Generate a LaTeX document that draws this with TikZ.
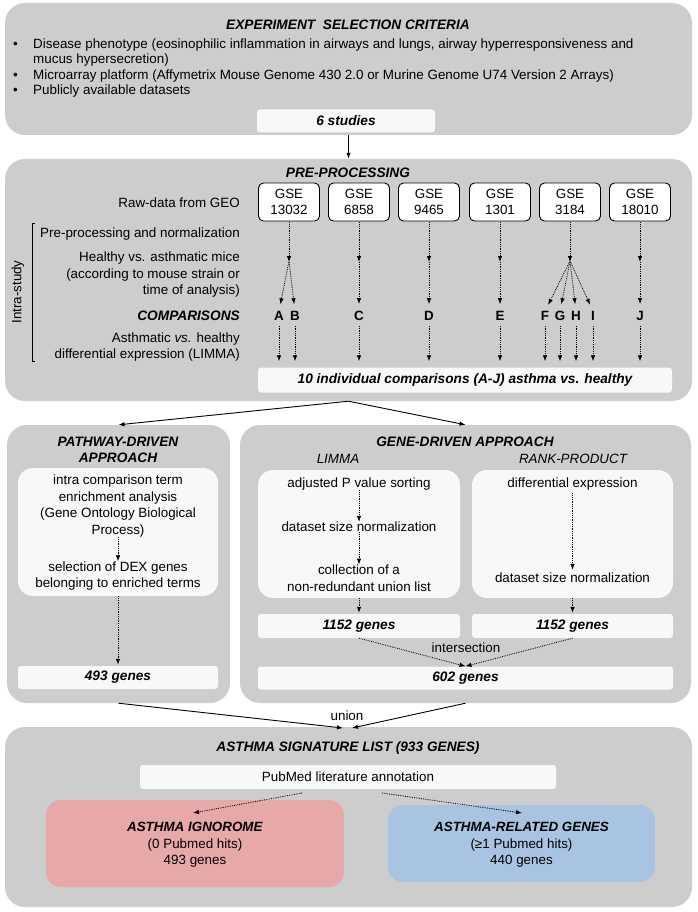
\documentclass[tikz,border=0pt]{standalone}
\usepackage{fontspec}
\setmainfont{Liberation Sans}
\usetikzlibrary{arrows.meta}
\definecolor{boxgray}{RGB}{205,205,205}
\definecolor{boxwhite}{RGB}{248,248,248}
\definecolor{ignopink}{RGB}{230,168,168}
\definecolor{relblue}{RGB}{169,196,226}
\newcommand{\txtsize}{\fontsize{13.4}{16.5}\selectfont}
\newcommand{\ttlsize}{\fontsize{13.7}{16}\selectfont}
\tikzset{
  bigbox/.style={fill=boxgray, rounded corners=20pt},
  innerbox/.style={fill=boxwhite, rounded corners=15pt},
  genebox/.style={fill=boxwhite, rounded corners=3pt, font=\ttlsize\bfseries\itshape},
  gsebox/.style={draw, line width=0.9pt, fill=white, rounded corners=5pt, minimum width=61, minimum height=38, align=center},
  ttl/.style={font=\ttlsize\bfseries\itshape, align=center},
  cmp/.style={font=\txtsize\bfseries},
  bul/.style={anchor=base west},
  dotarrow/.style={densely dotted, line width=0.8pt, -{Latex[length=6pt,width=4.5pt]}},
  solidarrow/.style={line width=0.9pt, -{Latex[length=6pt,width=4.5pt]}}
}
\begin{document}
\begin{tikzpicture}[x=1pt,y=-1pt, every node/.append style={font=\txtsize, inner sep=0pt}]
  \useasboundingbox (0,0) rectangle (697,912);

  %experiment selection criteria
  \node[bigbox, minimum width=687, minimum height=132] (crit) at (348.5,69) {};
  \node[ttl] (critttl) at (348,25) {EXPERIMENT\ \ SELECTION CRITERIA};
  \node[bul] (bul1) at (13,49) {•};
  \node[bul] (crit1) at (33,49) {Disease phenotype (eosinophilic inflammation in airways and lungs, airway hyperresponsiveness and};
  \node[bul] (crit1b) at (33,64) {mucus hypersecretion)};
  \node[bul] (bul2) at (13,79.5) {•};
  \node[bul] (crit2) at (33,79.5) {Microarray platform (Affymetrix Mouse Genome 430 2.0 or Murine Genome U74 Version 2 Arrays)};
  \node[bul] (bul3) at (13,95) {•};
  \node[bul] (crit3) at (33,95) {Publicly available datasets};
  \node[genebox, minimum width=178, minimum height=23] (studies) at (346,121) {6 studies};

  %pre-processing
  \node[bigbox, minimum width=687, minimum height=242] (pre) at (348.5,280) {};
  \draw[solidarrow] (crit.south) -- (pre.north);
  \node[ttl] (prettl) at (348,173) {PRE-PROCESSING};
  \node[anchor=east] (raw) at (240,203) {Raw-data from GEO};
  \node[anchor=east] (norm) at (240,234) {Pre-processing and normalization};
  \node[anchor=east, align=right] (mice) at (240,275) {Healthy vs. asthmatic mice\\(according to mouse strain or\\time of analysis)};
  \node[anchor=east, font=\ttlsize\bfseries\itshape] (cmps) at (240,316) {COMPARISONS};
  \node[anchor=east, align=right] (dex) at (240,347) {Asthmatic \textit{vs.} healthy\\differential expression (LIMMA)};
  \draw[line width=0.8pt] (35,223) -- (32,223) -- (32,361) -- (35,361);
  \node[rotate=90] (intra) at (18,292) {Intra-study};

  \node[gsebox] (gse1) at (289,202) {GSE\\13032};
  \node[gsebox] (gse2) at (359,202) {GSE\\6858};
  \node[gsebox] (gse3) at (429,202) {GSE\\9465};
  \node[gsebox] (gse4) at (500,202) {GSE\\1301};
  \node[gsebox] (gse5) at (570,202) {GSE\\3184};
  \node[gsebox] (gse6) at (640,202) {GSE\\18010};

  \coordinate (m1) at (289,261);
  \coordinate (m2) at (359,261);
  \coordinate (m3) at (429,261);
  \coordinate (m4) at (500,261);
  \coordinate (m5) at (570,261);
  \coordinate (m6) at (640,261);

  \node[cmp] (A) at (279,316) {A};
  \node[cmp] (B) at (295,316) {B};
  \node[cmp] (C) at (359,316) {C};
  \node[cmp] (D) at (429,316) {D};
  \node[cmp] (E) at (500,316) {E};
  \node[cmp] (F) at (545,316) {F};
  \node[cmp] (G) at (560,316) {G};
  \node[cmp] (H) at (576,316) {H};
  \node[cmp] (I) at (593,316) {I};
  \node[cmp] (J) at (640,316) {J};

  \node[genebox, minimum width=414, minimum height=25] (indiv) at (465,380) {10 individual comparisons (A-J) asthma vs. healthy};

  \foreach \g/\m in {gse1/m1,gse2/m2,gse3/m3,gse4/m4,gse5/m5,gse6/m6}
    \draw[dotarrow, shorten <=1pt, shorten >=-1pt] (\g.south) -- (\m);
  \foreach \m/\c in {m1/A,m1/B,m2/C,m3/D,m4/E,m5/F,m5/G,m5/H,m5/I,m6/J}
    \draw[dotarrow, shorten <=1pt, shorten >=7pt] (\m) -- (\c.north);
  \foreach \c in {A,...,J}
    \draw[dotarrow, shorten <=5pt, shorten >=6pt] (\c.south) -- (\c.south |- indiv.north);

  %pathway-driven approach
  \node[bigbox, minimum width=223, minimum height=278] (path) at (118.5,564) {};
  \draw[solidarrow] (pre.south) -- (path.north);
  \node[ttl] (pathttl) at (118,450) {PATHWAY-DRIVEN\\APPROACH};
  \node[innerbox, minimum width=200, minimum height=128] (pathin) at (118,532) {};
  \node[align=center] (enrich) at (118,506) {intra comparison term\\enrichment analysis\\(Gene Ontology Biological\\Process)};
  \node[align=center] (select) at (118,576) {selection of DEX genes\\belonging to enriched terms};
  \draw[dotarrow] (enrich.south) -- (select.north);
  \node[genebox, minimum width=200, minimum height=23] (g493) at (118,677.5) {493 genes};
  \draw[dotarrow, shorten >=1pt] (pathin.south) -- (g493.north);

  %gene-driven approach
  \node[bigbox, minimum width=451, minimum height=278] (gene) at (465.5,564) {};
  \draw[solidarrow] (pre.south) -- (gene.north);
  \node[ttl] (genettl) at (465,442) {GENE-DRIVEN APPROACH};
  \node[font=\txtsize\itshape] (limma) at (338,459) {LIMMA};
  \node[font=\txtsize\itshape] (rank) at (573,459) {RANK-PRODUCT};
  \node[innerbox, minimum width=202, minimum height=128] (limin) at (359,534) {};
  \node[innerbox, minimum width=201, minimum height=128] (rankin) at (572.5,534) {};
  \node (sortp) at (359,484) {adjusted P value sorting};
  \node (lnorm) at (359,527) {dataset size normalization};
  \node[align=center] (union) at (359,578) {collection of a\\non-redundant union list};
  \draw[dotarrow] (sortp.south) -- (lnorm.north);
  \draw[dotarrow] (lnorm.south) -- (union.north);
  \node (diffex) at (572.5,484) {differential expression};
  \node (rnorm) at (572.5,578) {dataset size normalization};
  \draw[dotarrow, shorten <=3pt, shorten >=3pt] (diffex.south) -- (rnorm.north);
  \node[genebox, minimum width=202, minimum height=24] (limg) at (359,626) {1152 genes};
  \node[genebox, minimum width=201, minimum height=24] (rankg) at (572.5,626) {1152 genes};
  \draw[dotarrow, shorten >=1pt] (limin.south) -- (limg.north);
  \draw[dotarrow, shorten >=1pt] (rankin.south) -- (rankg.north);
  \node[genebox, minimum width=415, minimum height=23] (g602) at (465.5,678) {602 genes};
  \draw[dotarrow] (limg.south) -- (g602.north);
  \draw[dotarrow] (rankg.south) -- (g602.north);
  \node (inter) at (466,648) {intersection};

  %asthma signature list
  \node[bigbox, minimum width=687, minimum height=180] (sig) at (348.5,817) {};
  \coordinate (u1) at (343,728);
  \coordinate (u2) at (352,728);
  \draw[solidarrow] (path.south) -- (u1);
  \draw[solidarrow] (gene.south) -- (u2);
  \node (unionlbl) at (347,716) {union};
  \node[ttl] (sigttl) at (348,748) {ASTHMA SIGNATURE LIST (933 GENES)};
  \node[fill=boxwhite, rounded corners=3pt, minimum width=416, minimum height=24] (pubmed) at (348,777) {PubMed literature annotation};
  \node[fill=ignopink, rounded corners=15pt, minimum width=298, minimum height=87] (igno) at (195,843.5) {};
  \node[align=center] (ignotxt) at (195,845) {\textbf{\textit{ASTHMA IGNOROME}}\\(0 Pubmed hits)\\493 genes};
  \node[fill=relblue, rounded corners=15pt, minimum width=267, minimum height=77] (related) at (521.5,843.5) {};
  \node[align=center] (reltxt) at (521.5,845) {\textbf{\textit{ASTHMA-RELATED GENES}}\\(≥1 Pubmed hits)\\440 genes};
  \coordinate (p1) at (302,793);
  \coordinate (q1) at (193,813);
  \coordinate (p2) at (382,793);
  \coordinate (q2) at (522,813);
  \draw[dotarrow] (p1) -- (q1);
  \draw[dotarrow] (p2) -- (q2);
\end{tikzpicture}
\end{document}
